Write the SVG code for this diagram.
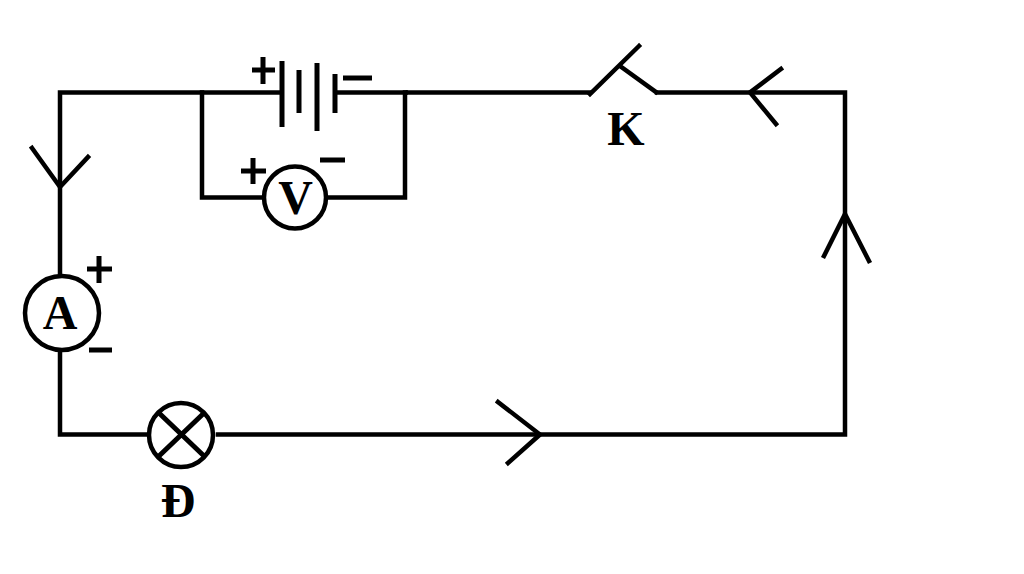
<svg xmlns="http://www.w3.org/2000/svg" width="1024" height="574" viewBox="0 0 1024 574">
<style>
.w{fill:none;stroke:#000;stroke-width:4.5;stroke-linecap:square;stroke-linejoin:miter}
.c{fill:#fff;stroke:#000;stroke-width:4.5}
.t{font-family:"Liberation Serif",serif;font-weight:700;fill:#000;text-anchor:middle;font-size:48px}
.s{fill:none;stroke:#000;stroke-width:5}
</style>
<rect width="1024" height="574" fill="#fff"/>
<g id="connectors">
<path class="w" d="M280 92.500H60V275M60 349V434.500H147M218 434.500H845V92.500H657M589 92.500H408"/>
<path class="w" d="M202 92.500V197.500H263M327 197.500H405V92.500"/>
<path class="w" d="M32 148L60 187L88 157"/>
<path class="w" d="M498 402L540 434.500L508 463"/>
<path class="w" d="M824 256L845 214L869 261"/>
<path class="w" d="M781 69L750 92.500L776 124"/>
</g>
<g id="battery">
<path class="s" d="M282 61V127M299 70V113M317 63V131M335 74V113"/>
<path class="w" d="M337 92.500H408" style="stroke-linecap:butt"/>
<path class="s" d="M343 78H372"/>
<path class="s" d="M252 70H275M263 57V84"/>
</g>
<g id="voltmeter">
<circle class="c" cx="295" cy="197.500" r="31"/>
<text class="t" x="295.500" y="214">V</text>
<path class="s" d="M241 171H266M253 158V184M320 160H345"/>
</g>
<g id="ammeter">
<circle class="c" cx="62" cy="313" r="37"/>
<text class="t" x="60" y="329">A</text>
<path class="s" d="M87 269H112M99 256V283M89 350H112"/>
</g>
<g id="lamp">
<circle class="c" cx="181" cy="435" r="32"/>
<path class="s" d="M159 413L204 456M204 413L159 456"/>
<text class="t" x="178" y="517">Đ</text>
</g>
<g id="switch">
<path class="w" d="M590 94L639 46M620 66L656 92"/>
<text class="t" x="626" y="145">K</text>
</g>
</svg>
